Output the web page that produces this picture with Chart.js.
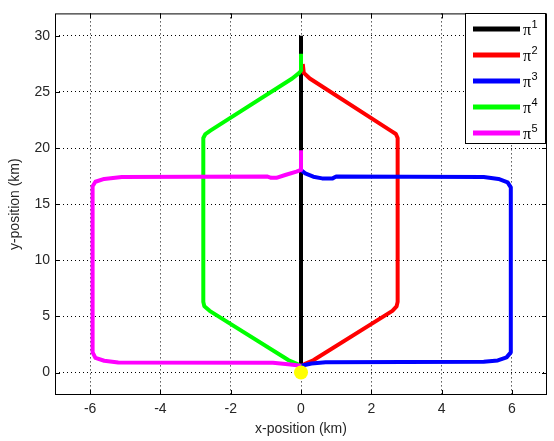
<!DOCTYPE html>
<html>
<head>
<meta charset="utf-8">
<script src="https://cdn.jsdelivr.net/npm/chart.js@4"></script>
<style>
  html, body { margin: 0; padding: 0; background: #fff; }
  canvas { display: block; }
</style>
</head>
<body>
<canvas id="c" width="554" height="441"></canvas>
<script>
// ---- data ----
const xTicks = [-6, -4, -2, 0, 2, 4, 6];
const yTicks = [0, 5, 10, 15, 20, 25, 30];
const seriesBase = 'π';
const seriesSup = ['1', '2', '3', '4', '5'];
const seriesColors = ['#000000', '#ff0000', '#0000ff', '#00ff00', '#ff00ff'];

const pi1X = [0, 0];
const pi1Y = [0, 30];

const pi2X = [0, 0.1, 0.35, 2.6, 2.72, 2.75, 2.75, 2.7, 2.55, 0.25, 0.08, 0.05];
const pi2Y = [0.55, 0.75, 1.1, 5.5, 5.9, 6.3, 20.9, 21.25, 21.55, 26.2, 26.7, 27.5];

const pi3X = [0, 0.3, 0.7, 5.2, 5.6, 5.85, 5.97, 5.97, 5.88, 5.62, 5.2, 1.0, 0.9, 0.6, 0.35, 0.12, 0];
const pi3Y = [0.6, 0.8, 0.92, 0.97, 1.08, 1.35, 1.8, 16.5, 16.95, 17.25, 17.42, 17.46, 17.3, 17.3, 17.45, 17.75, 18.05];

const pi4X = [0, -0.1, -0.35, -2.6, -2.75, -2.78, -2.78, -2.72, -2.58, -0.25, -0.05, 0, 0];
const pi4Y = [0.55, 0.75, 1.1, 5.5, 5.9, 6.3, 20.9, 21.25, 21.55, 26.2, 26.7, 26.9, 28.4];

const pi5X = [0, -0.3, -0.8, -5.2, -5.6, -5.85, -5.93, -5.93, -5.85, -5.6, -5.1, -0.95, -0.85, -0.7, -0.45, -0.13, 0, 0];
const pi5Y = [0.6, 0.72, 0.87, 0.9, 1.05, 1.3, 1.8, 16.6, 17.0, 17.25, 17.42, 17.46, 17.35, 17.35, 17.6, 17.9, 18.05, 19.8];

const startX = [0];
const startY = [0];

const seriesX = [pi1X, pi2X, pi3X, pi4X, pi5X];
const seriesY = [pi1Y, pi2Y, pi3Y, pi4Y, pi5Y];

function pts(xs, ys) { return xs.map((x, i) => ({ x: x, y: ys[i] })); }

const datasets = seriesX.map((xs, i) => ({
  label: seriesBase + seriesSup[i],
  data: pts(xs, seriesY[i]),
  showLine: true,
  borderColor: seriesColors[i],
  backgroundColor: seriesColors[i],
  borderWidth: 4,
  pointRadius: 0,
  tension: 0,
  fill: false,
  order: 5 - i,
  borderCapStyle: 'butt',
  borderJoinStyle: 'round'
}));
datasets.push({
  label: 'start',
  data: pts(startX, startY),
  showLine: false,
  pointRadius: 7,
  backgroundColor: '#ffff00',
  borderWidth: 0,
  order: -1
});

const frame = {
  id: 'frame',
  afterDraw(chart) {
    const { ctx, chartArea: a, scales } = chart;
    ctx.save();
    ctx.strokeStyle = '#000';
    ctx.lineWidth = 1;
    const L = 5;
    ctx.beginPath();
    xTicks.forEach(v => {
      const px = Math.round(scales.x.getPixelForValue(v)) + 0.5;
      ctx.moveTo(px, a.bottom); ctx.lineTo(px, a.bottom - L);
      ctx.moveTo(px, a.top); ctx.lineTo(px, a.top + L);
    });
    yTicks.forEach(v => {
      const py = Math.round(scales.y.getPixelForValue(v)) + 0.5;
      ctx.moveTo(a.left, py); ctx.lineTo(a.left + L, py);
      ctx.moveTo(a.right, py); ctx.lineTo(a.right - L, py);
    });
    ctx.stroke();
    ctx.strokeRect(a.left + 0.5, a.top + 0.5, a.right - a.left - 1, a.bottom - a.top - 1);

    // legend box
    const bx = 465.5, by = 13.5, bw = 80, bh = 130;
    ctx.fillStyle = '#fff';
    ctx.fillRect(bx, by, bw, bh);
    ctx.strokeStyle = '#000';
    ctx.strokeRect(bx, by, bw, bh);
    const rows = [29, 55, 81, 107, 133];
    seriesSup.forEach((s, i) => {
      const y = rows[i];
      ctx.strokeStyle = seriesColors[i];
      ctx.lineWidth = 5;
      ctx.beginPath();
      ctx.moveTo(473, y); ctx.lineTo(520, y);
      ctx.stroke();
      ctx.fillStyle = '#000';
      ctx.textBaseline = 'alphabetic';
      ctx.textAlign = 'left';
      ctx.font = '16px "Liberation Serif"';
      ctx.fillText(seriesBase, 523, y + 6);
      const w = ctx.measureText(seriesBase).width;
      ctx.font = '11px "Liberation Sans"';
      ctx.fillText(s, 523 + w + 0.5, y - 1);
    });
    ctx.restore();
  }
};

new Chart(document.getElementById('c'), {
  type: 'scatter',
  data: { datasets: datasets },
  options: {
    responsive: false,
    animation: false,
    devicePixelRatio: 1,
    layout: { padding: { top: 7, right: 4, left: 0, bottom: 0 } },
    plugins: { legend: { display: false }, tooltip: { enabled: false } },
    scales: {
      x: {
        type: 'linear', min: -7, max: 7, position: 'bottom',
        afterBuildTicks: s => { s.ticks = xTicks.map(v => ({ value: v })); },
        afterFit: s => { s.height = 46; },
        grid: { color: '#000', lineWidth: 1, drawTicks: false },
        border: { display: false, dash: [1, 3] },
        ticks: { padding: 6, color: '#262626', font: { family: 'Liberation Sans', size: 14 }, callback: v => String(v) },
        title: { display: true, text: 'x-position (km)', color: '#262626', font: { family: 'Liberation Sans', size: 14 }, padding: { top: 0, bottom: 3 } }
      },
      y: {
        type: 'linear', min: -2, max: 32, position: 'left',
        afterBuildTicks: s => { s.ticks = yTicks.map(v => ({ value: v })); },
        afterFit: s => { s.width = 55; },
        grid: { color: '#000', lineWidth: 1, drawTicks: false },
        border: { display: false, dash: [1, 3] },
        ticks: { padding: 5, color: '#262626', font: { family: 'Liberation Sans', size: 14 }, callback: v => String(v) },
        title: { display: true, text: 'y-position (km)', color: '#262626', font: { family: 'Liberation Sans', size: 14 }, padding: { top: 7, bottom: 0 } }
      }
    }
  },
  plugins: [frame]
});
</script>
</body>
</html>
